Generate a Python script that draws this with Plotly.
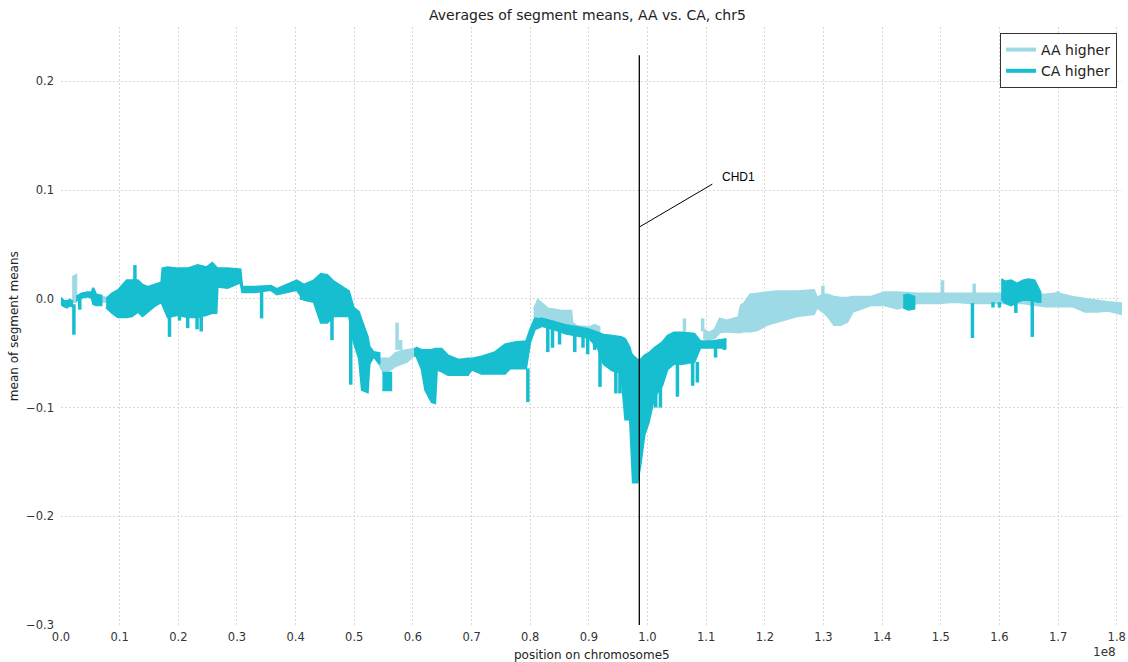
import plotly.graph_objects as go

AA_COLOR = "#9edae5"
CA_COLOR = "#17becf"

# ---------------- data (positions in Mb, values = mean of segment means) -------------
# CA-higher bands: each piece is a run of positions with upper / lower envelope
ca_band_pos = [
    [0.0, 0.5, 1.0, 1.5, 1.9],
    [2.6, 3.5, 4.5, 5.2, 5.5, 6.0, 6.9],
    [7.7, 8.7, 9.7, 11.2, 12.1, 13.1, 13.9, 14.8, 15.9, 17.1, 17.3, 18.2, 19.9, 21.6,
     23.3, 24.8, 25.8, 26.5, 26.7, 28.4, 30.6, 30.9, 33.0, 35.8, 36.8, 38.5, 40.2, 41.4,
     43.1, 44.3, 45.4, 46.5, 48.2, 49.1, 49.9, 50.8, 51.3, 52.3, 52.6, 53.3, 54.3],
    [54.8, 56.3],
    [60.2, 60.6, 61.5, 62.1, 63.2, 63.8, 64.1, 64.9, 66.0, 67.8, 69.4, 70.0, 71.7, 74.0,
     75.7, 76.6, 77.4, 79.3, 80.0, 80.8, 82.0, 84.0, 86.0, 88.0, 90.0, 91.5, 92.5, 94.0,
     95.5, 96.2, 97.0, 97.2, 97.5, 98.3, 98.8, 99.5, 100.2, 101.2, 102.5, 103.4, 104.5,
     106.0, 108.0, 109.0, 111.0, 113.3],
    [143.6, 144.5, 145.5],
    [160.3, 161.0, 162.0, 163.0, 164.0, 165.0, 166.0, 166.6, 167.0],
]
ca_band_hi = [
    [0.001, -0.002, -0.002, -0.001, -0.002],
    [0.002, 0.005, 0.006, 0.006, 0.010, 0.004, 0.003],
    [0.0, 0.005, 0.008, 0.017, 0.017, 0.017, 0.013, 0.011, 0.013, 0.015, 0.028, 0.029, 0.028, 0.028,
     0.031, 0.029, 0.033, 0.029, 0.028, 0.028, 0.027, 0.011, 0.011, 0.012, 0.009, 0.013, 0.017, 0.013,
     0.017, 0.023, 0.022, 0.016, 0.010, 0.007, -0.008, -0.012, -0.020, -0.035, -0.044, -0.049, -0.050],
    [-0.068, -0.068],
    [-0.047, -0.045, -0.047, -0.047, -0.047, -0.046, -0.046, -0.046, -0.052, -0.056, -0.055, -0.055, -0.053, -0.049,
     -0.042, -0.041, -0.040, -0.039, -0.028, -0.018, -0.018, -0.021, -0.024, -0.026, -0.028, -0.031, -0.033, -0.034,
     -0.035, -0.037, -0.045, -0.050, -0.052, -0.056, -0.056, -0.052, -0.050, -0.045, -0.040, -0.034, -0.031,
     -0.031, -0.032, -0.039, -0.039, -0.037],
    [0.003, 0.004, 0.002],
    [0.018, 0.016, 0.017, 0.014, 0.017, 0.018, 0.017, 0.010, 0.006],
]
ca_band_lo = [
    [-0.005, -0.007, -0.008, -0.006, -0.007],
    [-0.002, 0.001, 0.002, 0.001, -0.005, -0.006, -0.006],
    [-0.008, -0.013, -0.017, -0.017, -0.016, -0.012, -0.016, -0.012, -0.007, -0.003, -0.006, -0.017, -0.015, -0.017,
     -0.017, -0.015, -0.013, -0.013, 0.011, 0.010, 0.015, 0.006, 0.006, 0.008, 0.004, 0.006, 0.008, -0.001,
     -0.003, -0.022, -0.022, -0.016, -0.016, -0.016, -0.040, -0.055, -0.084, -0.086, -0.060, -0.053, -0.060],
    [-0.084, -0.084],
    [-0.052, -0.053, -0.065, -0.084, -0.095, -0.096, -0.065, -0.067, -0.070, -0.070, -0.070, -0.065, -0.069, -0.069,
     -0.069, -0.064, -0.064, -0.064, -0.040, -0.028, -0.025, -0.028, -0.032, -0.034, -0.036, -0.045, -0.060, -0.066,
     -0.068, -0.111, -0.111, -0.125, -0.169, -0.169, -0.153, -0.125, -0.114, -0.090, -0.080, -0.065, -0.060,
     -0.060, -0.058, -0.045, -0.045, -0.045],
    [-0.008, -0.010, -0.009],
    [0.0, -0.004, -0.006, -0.003, -0.001, -0.001, -0.002, -0.003, -0.003],
]

# AA-higher bands
aa_band_pos = [
    [1.9, 2.6],
    [7.0, 7.8],
    [54.2, 55.0, 56.0, 57.0, 58.0, 59.0, 60.2],
    [80.6, 81.3, 82.0, 83.0, 84.5, 85.3, 87.0, 87.2, 88.0, 90.0, 91.0, 91.8],
    [109.5, 110.5, 111.5, 112.3, 113.5, 115.5, 115.9, 116.5, 117.5, 118.7, 120.4, 122.1, 125.5,
     128.4, 128.9, 129.9, 130.7, 131.8, 133.0, 134.1, 135.0, 138.1, 140.4, 142.6, 146.0, 149.4,
     152.3, 155.2, 160.3, 164.0, 167.8, 170.0, 172.4, 174.6, 176.8, 178.5, 180.8],
]
aa_band_hi = [
    [0.020, 0.022],
    [0.002, 0.001],
    [-0.055, -0.055, -0.055, -0.050, -0.048, -0.047, -0.046],
    [-0.010, -0.001, -0.004, -0.009, -0.010, -0.011, -0.011, -0.022, -0.025, -0.026, -0.024, -0.026],
    [-0.028, -0.031, -0.028, -0.018, -0.020, -0.017, -0.006, -0.004, 0.004, 0.005, 0.006, 0.007, 0.007,
     0.008, 0.001, 0.004, 0.004, 0.002, 0.001, 0.001, 0.002, 0.002, 0.006, 0.006, 0.005, 0.005,
     0.005, 0.005, 0.005, 0.004, 0.004, 0.005, 0.002, 0.000, -0.002, -0.003, -0.004],
]
aa_band_lo = [
    [-0.003, -0.003],
    [-0.003, -0.003],
    [-0.060, -0.068, -0.066, -0.062, -0.060, -0.058, -0.052],
    [-0.020, -0.015, -0.018, -0.020, -0.022, -0.030, -0.030, -0.030, -0.033, -0.034, -0.035, -0.032],
    [-0.036, -0.038, -0.036, -0.031, -0.030, -0.031, -0.031, -0.030, -0.030, -0.029, -0.024, -0.021, -0.016,
     -0.014, -0.008, -0.012, -0.016, -0.024, -0.024, -0.021, -0.012, -0.006, -0.006, -0.009, -0.004, -0.004,
     -0.003, -0.004, -0.004, -0.004, -0.007, -0.007, -0.007, -0.012, -0.012, -0.011, -0.014],
]

# narrow single-segment spikes (position, value where it starts, value where it ends)
ca_spike_pos = [2.2, 3.2, 12.6, 18.5, 20.2, 21.6, 23.2, 23.9, 34.2, 41.0, 46.2, 49.4, 79.6, 83.0,
                83.8, 85.0, 87.6, 89.0, 89.8, 91.0, 91.9, 94.1, 94.6, 95.3, 101.4, 102.2, 105.1,
                107.7, 108.5, 110.5, 111.6, 113.1, 155.4, 158.9, 160.0, 162.8, 165.6]
ca_spike_from = [-0.005, 0.002, 0.015, -0.015, -0.015, -0.015, -0.015, -0.015, 0.008, 0.008, -0.015,
                 -0.015, -0.064, -0.020, -0.020, -0.025, -0.028, -0.028, -0.028, -0.030, -0.040,
                 -0.060, -0.060, -0.060, -0.080, -0.080, -0.060, -0.058, -0.058, -0.044, -0.044,
                 -0.044, -0.004, -0.003, -0.003, 0.0, 0.0]
ca_spike_to = [-0.033, -0.010, 0.031, -0.035, -0.020, -0.027, -0.028, -0.030, -0.018, -0.001, -0.038,
               -0.079, -0.095, -0.049, -0.045, -0.042, -0.049, -0.045, -0.051, -0.047, -0.081,
               -0.062, -0.087, -0.087, -0.100, -0.100, -0.090, -0.080, -0.077, -0.044, -0.054,
               -0.047, -0.036, -0.008, -0.008, -0.013, -0.035]

aa_spike_pos = [57.3, 57.9, 106.3, 109.4, 129.9, 150.3, 155.7, 170.0]
aa_spike_from = [-0.047, -0.047, -0.030, -0.030, 0.004, 0.005, 0.005, 0.004]
aa_spike_to = [-0.022, -0.038, -0.018, -0.018, 0.012, 0.017, 0.014, 0.007]

# gene marker
chd1_pos = 98.6         # Mb
chd1_line_top = 0.224
chd1_arrow_y = 0.066
chd1_label_pos = 111.05
chd1_label_y = 0.1055
chd1_text_pos = 112.4
chd1_text_y = 0.112

x_tick_labels = ["0.0", "0.1", "0.2", "0.3", "0.4", "0.5", "0.6", "0.7", "0.8", "0.9",
                 "1.0", "1.1", "1.2", "1.3", "1.4", "1.5", "1.6", "1.7", "1.8"]
y_tick_values = [-0.3, -0.2, -0.1, 0.0, 0.1, 0.2]
y_tick_labels = ["\u22120.3", "\u22120.2", "\u22120.1", "0.0", "0.1", "0.2"]

MB = 1e6
FONT = "DejaVu Sans"

fig = go.Figure()


def add_bands(pos_list, hi_list, lo_list, color):
    for pos, hi, lo in zip(pos_list, hi_list, lo_list):
        xs = [p * MB for p in pos] + [p * MB for p in reversed(pos)]
        ys = list(hi) + list(reversed(lo))
        fig.add_trace(go.Scatter(
            x=xs, y=ys, mode="lines", fill="toself", fillcolor=color,
            line=dict(color=color, width=2), showlegend=False, hoverinfo="skip"))


def add_spikes(pos, y0, y1, color):
    xs, ys = [], []
    for p, a, b in zip(pos, y0, y1):
        xs += [p * MB, p * MB, None]
        ys += [a, b, None]
    fig.add_trace(go.Scatter(x=xs, y=ys, mode="lines",
                             line=dict(color=color, width=3.5),
                             showlegend=False, hoverinfo="skip"))


add_bands(aa_band_pos, aa_band_hi, aa_band_lo, AA_COLOR)
add_spikes(aa_spike_pos, aa_spike_from, aa_spike_to, AA_COLOR)
add_bands(ca_band_pos, ca_band_hi, ca_band_lo, CA_COLOR)
add_spikes(ca_spike_pos, ca_spike_from, ca_spike_to, CA_COLOR)

# CHD1 vertical line and label connector
fig.add_trace(go.Scatter(x=[chd1_pos * MB, chd1_pos * MB], y=[-0.3, chd1_line_top],
                         mode="lines", line=dict(color="black", width=1.3),
                         showlegend=False, hoverinfo="skip"))
fig.add_trace(go.Scatter(x=[chd1_pos * MB, chd1_label_pos * MB], y=[chd1_arrow_y, chd1_label_y],
                         mode="lines", line=dict(color="black", width=1),
                         showlegend=False, hoverinfo="skip"))

# legend entries
fig.add_trace(go.Scatter(x=[None], y=[None], mode="lines", name="AA higher",
                         line=dict(color=AA_COLOR, width=4)))
fig.add_trace(go.Scatter(x=[None], y=[None], mode="lines", name="CA higher",
                         line=dict(color=CA_COLOR, width=4)))

L, R, T, B = 61, 2, 27, 37
W, H = 1128, 662
PW, PH = W - L - R, H - T - B


def px(xp):
    return (xp - L) / PW


def py(yp):
    return (H - B - yp) / PH


fig.add_annotation(x=chd1_text_pos * MB, y=chd1_text_y, xref="x", yref="y", text="CHD1",
                   showarrow=False, xanchor="left", yanchor="middle",
                   font=dict(family="Liberation Sans", size=12, color="black"))
fig.add_annotation(x=px(589), y=py(15), xref="paper", yref="paper",
                   text="Averages of segment means, AA vs. CA, chr5", showarrow=False,
                   xanchor="center", yanchor="middle",
                   font=dict(family=FONT, size=14, color="#222222"))
fig.add_annotation(x=0.5, y=py(655), xref="paper", yref="paper",
                   text="position on chromosome5", showarrow=False,
                   xanchor="center", yanchor="middle",
                   font=dict(family=FONT, size=12, color="#222222"))
fig.add_annotation(x=px(14), y=0.5, xref="paper", yref="paper",
                   text="mean of segment means", showarrow=False, textangle=-90,
                   xanchor="center", yanchor="middle",
                   font=dict(family=FONT, size=12, color="#222222"))
fig.add_annotation(x=px(1122), y=py(652), xref="paper", yref="paper",
                   text="1e8", showarrow=False, xanchor="right", yanchor="middle",
                   font=dict(family=FONT, size=12, color="#333333"))

GRID = dict(showgrid=True, gridcolor="#d9d9d9", griddash="2px,2px", gridwidth=1,
            zeroline=False, showline=False, ticks="")

fig.update_layout(
    width=W, height=H, autosize=False,
    margin=dict(l=L, r=R, t=T, b=B, pad=0),
    paper_bgcolor="white", plot_bgcolor="white",
    showlegend=True,
    legend=dict(x=px(1121), y=py(33), xanchor="right", yanchor="top",
                bgcolor="white", bordercolor="#333333", borderwidth=1,
                font=dict(family=FONT, size=14, color="#222222"),
                itemwidth=30, tracegroupgap=0),
    xaxis=dict(range=[0, 180.9 * MB], **GRID, ticklabeloverflow="allow",
               ticklabelstandoff=3,
               tickvals=[float(t) * 1e8 for t in x_tick_labels], ticktext=x_tick_labels,
               tickfont=dict(family=FONT, size=11.5, color="#333333")),
    yaxis=dict(range=[-0.3, 0.25], **GRID, ticklabelstandoff=6,
               tickvals=y_tick_values, ticktext=y_tick_labels,
               tickfont=dict(family=FONT, size=11.5, color="#333333")),
)

fig.write_html("out.html")
